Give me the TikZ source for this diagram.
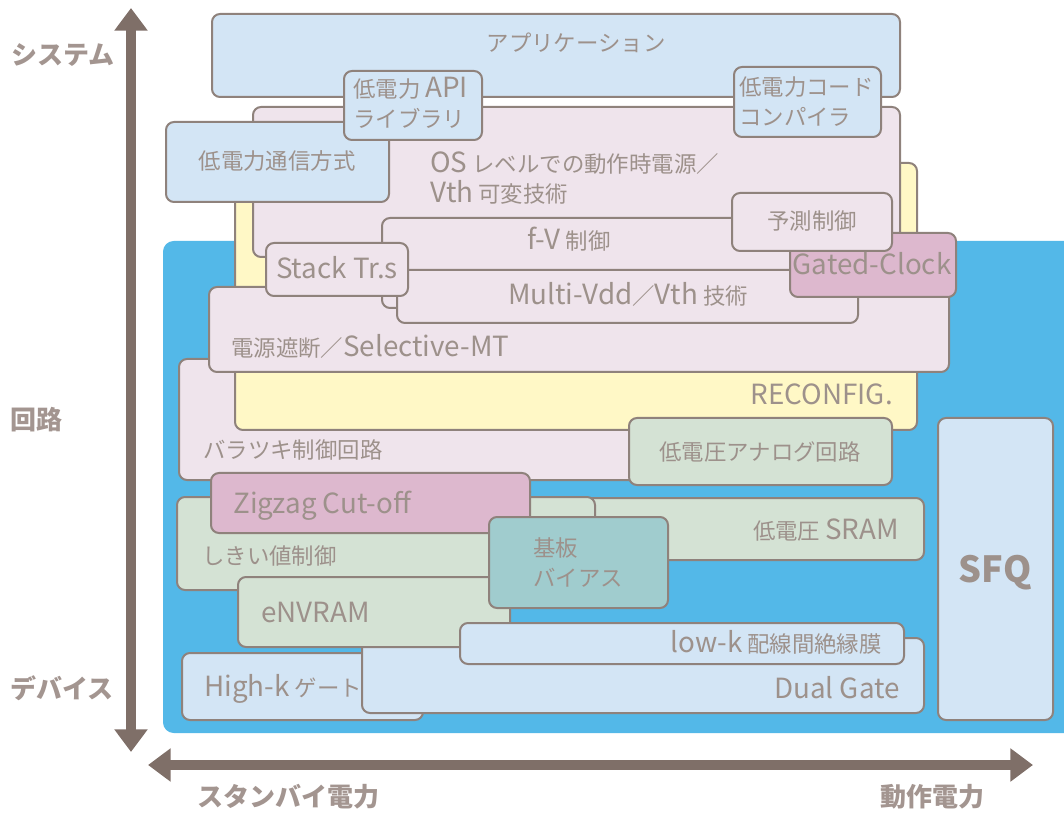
\documentclass[tikz,border=0pt]{standalone}
\usepackage{fontspec}
\setmainfont{Noto Sans CJK JP}
\newfontfamily\latfont[Scale=1.24]{Noto Sans CJK JP}
\newcommand\latn[1]{{\latfont #1}}
\usetikzlibrary{arrows.meta}
\definecolor{bgblue}{HTML}{53B8E8}
\definecolor{lblue}{HTML}{D3E5F5}
\definecolor{lpink}{HTML}{EFE4EC}
\definecolor{lyellow}{HTML}{FFF8C6}
\definecolor{mauve}{HTML}{DDB8CE}
\definecolor{lgreen}{HTML}{D4E2D4}
\definecolor{teal2}{HTML}{A0CCCE}
\definecolor{bordc}{HTML}{8F827C}
\definecolor{txtc}{HTML}{9D918B}
\definecolor{arrc}{HTML}{7F6F68}
\definecolor{axtxt}{HTML}{A39590}
\newcommand\mybox[6]{%
  \node[boxstyle,#2,minimum width={(#5-#3)*0.75pt},minimum height={(#6-#4)*0.75pt}] (#1) at ({(#3+#5)/2},{(#4+#6)/2}) {};}
\tikzset{
  boxstyle/.style={draw=bordc,line width=1.5pt,rounded corners=6pt,inner sep=0pt,outer sep=0pt},
  lbl/.style={text=txtc,inner sep=0pt,font=\fontsize{16.8}{22.5}\selectfont,align=left,anchor=base},
  lblw/.style={lbl,anchor=base west},
  lble/.style={lbl,anchor=base east},
  axlbl/.style={text=axtxt,inner sep=0pt,font=\fontsize{19.5}{22}\selectfont\bfseries},
  axarrow/.style={draw=arrc,line width=7.5pt,{Triangle[width=24pt,length=17pt]}-{Triangle[width=24pt,length=17pt]}}
}
\begin{document}
\begin{tikzpicture}[x=0.75pt,y=-0.75pt]
\useasboundingbox (0,0) rectangle (1064,816);
\clip (0,0) rectangle (1064,816);
% background blue area
\fill[bgblue,rounded corners=8pt] (163,241) rectangle (1090,733);
% upper section
\mybox{app}{fill=lblue}{212}{14}{900}{97}
\mybox{bara}{fill=lpink}{179}{359}{880}{480}
\mybox{reconf}{fill=lyellow}{235}{163}{917}{430}
\mybox{os}{fill=lpink}{253}{107}{900}{257}
\mybox{tsushin}{fill=lblue}{166}{122}{389}{202}
\mybox{api}{fill=lblue}{344}{71}{482}{140}
\mybox{comp}{fill=lblue}{734}{67}{881}{137}
\mybox{dengen}{fill=lpink}{209}{287}{949}{372}
\mybox{fv}{fill=lpink}{382}{218}{840}{308}
\mybox{mvdd}{fill=lpink}{397}{270}{858}{323}
\mybox{gated}{fill=mauve}{790}{233}{956}{297}
\mybox{yosoku}{fill=lpink}{732}{193}{892}{251}
\mybox{stack}{fill=lpink}{266}{243}{408}{296}
% lower section
\mybox{analog}{fill=lgreen}{629}{418}{892}{485}
\mybox{sfq}{fill=lblue}{938}{418}{1053}{720}
\mybox{sram}{fill=lgreen}{400}{498}{924}{560}
\mybox{shikii}{fill=lgreen}{177}{497}{595}{590}
\mybox{zigzag}{fill=mauve}{211}{473}{530}{533}
\mybox{highk}{fill=lblue}{182}{653}{423}{720}
\mybox{dual}{fill=lblue}{362}{638}{924}{713}
\mybox{envram}{fill=lgreen}{238}{577}{510}{647}
\mybox{kiban}{fill=teal2}{489}{517}{668}{608}
\mybox{lowk}{fill=lblue}{460}{623}{904}{664}
% texts (baseline of last line)
\node[lbl] (t-app) at (576,52) {アプリケーション};
\node[lblw] (t-api) at (353,128) {低電力 \latn{API}\\ライブラリ};
\node[lblw] (t-comp) at (739,126) {低電力コード\\コンパイラ};
\node[lbl] (t-tsushin) at (277,170) {低電力通信方式};
\node[lblw] (t-os) at (430,203) {\latn{OS} レベルでの動作時電源／\\\latn{Vth} 可変技術};
\node[lbl] (t-fv) at (569,250) {\latn{f-V} 制御};
\node[lbl] (t-yosoku) at (812,230) {予測制御};
\node[lbl] (t-stack) at (337,279) {\latn{Stack Tr.s}};
\node[lbl] (t-gated) at (872,275) {\latn{Gated-Clock}};
\node[lbl] (t-mvdd) at (628,305) {\latn{Multi-Vdd}／\latn{Vth} 技術};
\node[lblw] (t-dengen) at (231,357) {電源遮断／\latn{Selective-MT}};
\node[lble] (t-reconf) at (893,405) {\latn{RECONFIG.}};
\node[lblw] (t-bara) at (203,459) {バラツキ制御回路};
\node[lbl] (t-analog) at (760,460) {低電圧アナログ回路};
\node[lblw] (t-zigzag) at (233,513) {\latn{Zigzag Cut-off}};
\node[lblw] (t-shikii) at (202,564) {しきい値制御};
\node[lble] (t-sram) at (899,539) {低電圧 \latn{SRAM}};
\node[lblw] (t-kiban) at (533,586) {基板\\バイアス};
\node[lblw] (t-envram) at (261,622) {\latn{eNVRAM}};
\node[text=txtc,inner sep=0pt,font=\fontsize{27}{30}\selectfont\bfseries] (t-sfq) at (995,573) {SFQ};
\node[lble] (t-lowk) at (882,652) {\latn{low-k} 配線間絶縁膜};
\node[lble] (t-dual) at (900,698) {\latn{Dual Gate}};
\node[lblw] (t-highk) at (204,696) {\latn{High-k} ゲート};
% axes
\coordinate (vtop) at (131,8);
\coordinate (vbot) at (131,752);
\coordinate (hleft) at (148,765);
\coordinate (hright) at (1033,765);
\draw[axarrow] (vbot) -- (vtop);
\draw[axarrow] (hleft) -- (hright);
\node[axlbl] (a-sys) at (63,55) {システム};
\node[axlbl] (a-kairo) at (37,420) {回路};
\node[axlbl] (a-dev) at (62,688) {デバイス};
\node[axlbl] (a-standby) at (288,797) {スタンバイ電力};
\node[axlbl] (a-dosa) at (932,797) {動作電力};
\end{tikzpicture}
\end{document}
